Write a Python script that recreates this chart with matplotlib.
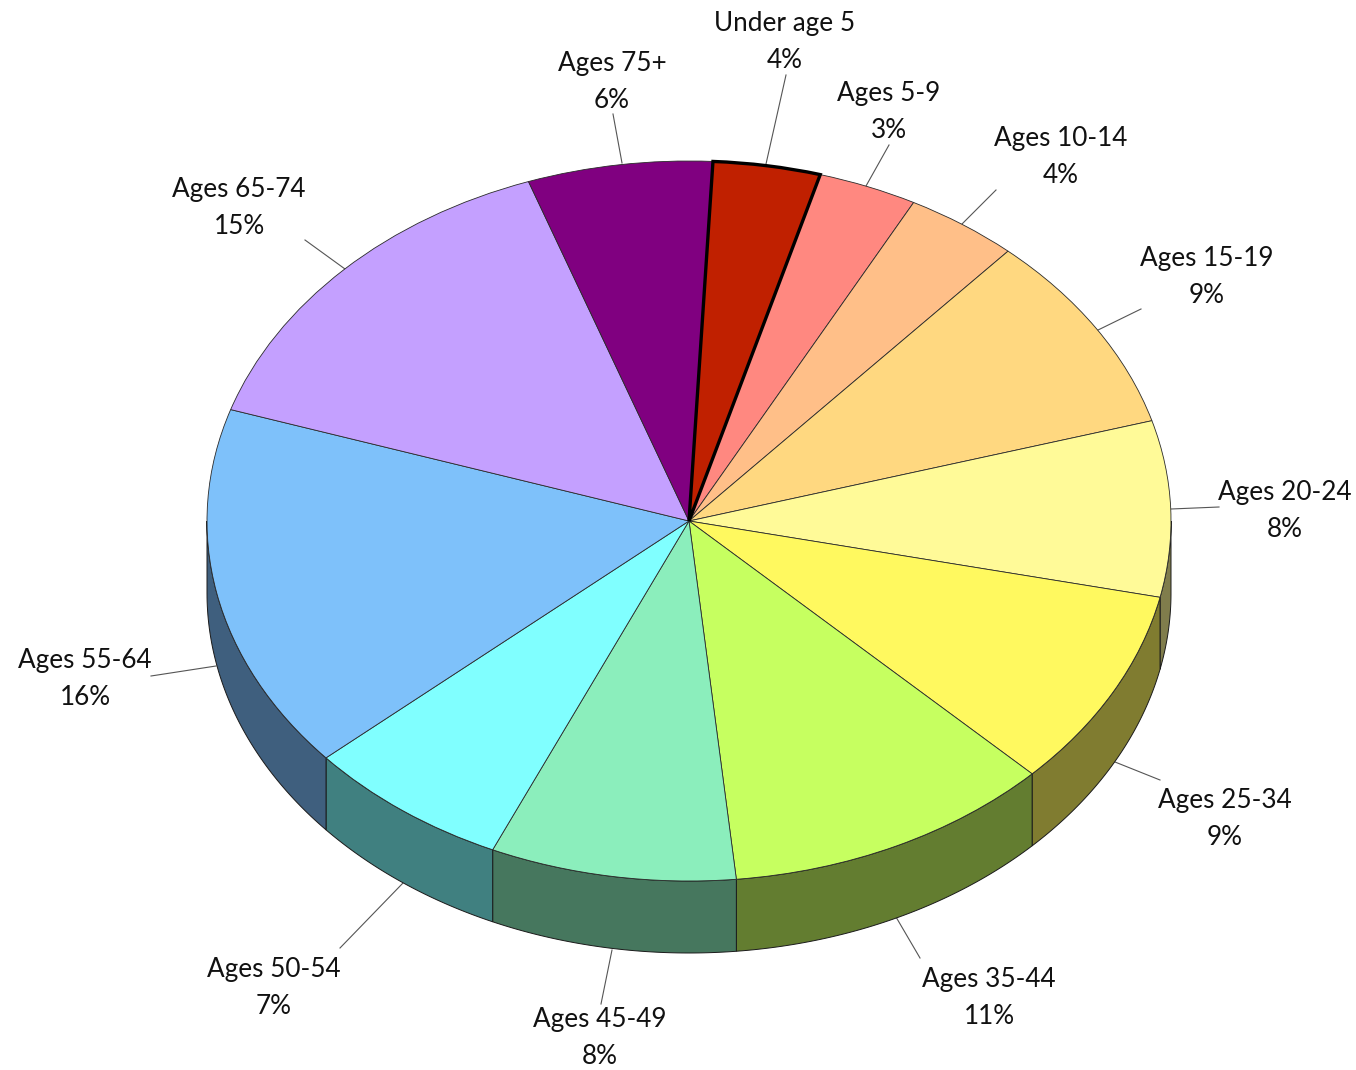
import numpy as np
import matplotlib
matplotlib.use('Agg')
import matplotlib.pyplot as plt

plt.rcParams['font.family'] = ['Lato', 'DejaVu Sans']

ages = ['Under age 5', 'Ages 5-9', 'Ages 10-14', 'Ages 15-19', 'Ages 20-24', 'Ages 25-34',
        'Ages 35-44', 'Ages 45-49', 'Ages 50-54', 'Ages 55-64', 'Ages 65-74', 'Ages 75+']
# slice sizes as measured, the printed percent is rounded
shares = [3.6, 3.33, 3.8, 9.0, 7.9, 9.0, 11.05, 8.25, 6.9, 16.45, 14.6, 6.2]
percent_labels = ['4%', '3%', '4%', '9%', '8%', '9%', '11%', '8%', '7%', '16%', '15%', '6%']
top_colors = ['#C02000', '#FF8880', '#FFBF88', '#FFD880', '#FFFA98', '#FFF95F',
              '#C6FF60', '#8BEEBC', '#80FFFF', '#7EC1FA', '#C4A0FF', '#800080']
side_colors = ['#602000', '#804440', '#806044', '#806C40', '#807D4C', '#807C30',
               '#637D30', '#46775E', '#408080', '#3F5F7E', '#625080', '#400040']

# label layout in pixels: text centre, leader start, leader end
label_xy = [(785, 42), (889, 112), (1061, 157), (1207, 277), (1285, 511), (1225, 819),
            (989, 998), (600, 1038), (274, 988), (85, 679), (239, 208), (612, 82)]
leaders = [((786, 75), (766, 164)), ((889, 145), (866, 186)), ((996, 190), (962, 224)),
           ((1141, 309), (1096, 331)), ((1219, 507), (1171, 509)), ((1160, 780), (1115, 762)),
           ((920, 958), (896, 917)), ((601, 1004), (612, 950)), ((340, 948), (403, 883)),
           ((151, 676), (216, 666)), ((305, 240), (345, 269)), ((613, 114), (622, 163))]

W, H = 1356, 1070
cx, cy = 689, 521
rx, ry = 482, 360
depth = 72 / ry


def px(x, y):
    return (x - cx) / rx, (cy - y) / ry


fig = plt.figure(figsize=(W / 100, H / 100), dpi=100)
ax = fig.add_axes([0, 0, 1, 1])

wedges, _ = ax.pie(shares, colors=top_colors, startangle=87.15, counterclock=False,
                   wedgeprops={'edgecolor': '#2a2a2a', 'linewidth': 0.6})
ax.set_aspect('auto')
ax.set_xlim(-cx / rx, (W - cx) / rx)
ax.set_ylim(-(H - cy) / ry, cy / ry)
ax.axis('off')

# side wall, only the part of each slice on the front half
for w, c in zip(wedges, side_colors):
    t1, t2 = w.theta1 % 360, w.theta2 % 360
    if t2 < t1:
        t2 += 360
    for lo, hi in [(180, 360), (540, 720)]:
        a, b = max(t1, lo), min(t2, hi)
        if b <= a:
            continue
        t = np.radians(np.linspace(a, b, 60))
        xs = np.r_[np.cos(t), np.cos(t[::-1])]
        ys = np.r_[np.sin(t), np.sin(t[::-1]) - depth]
        ax.fill(xs, ys, facecolor=c, edgecolor='#1a1a1a', linewidth=0.7, zorder=0.5)

wedges[0].set_linewidth(2.4)
wedges[0].set_edgecolor('black')
wedges[0].set_zorder(3)

for age, pct, (lx, ly), (p0, p1) in zip(ages, percent_labels, label_xy, leaders):
    x0, y0 = px(*p0)
    x1, y1 = px(*p1)
    ax.plot([x0, x1], [y0, y1], color='#555555', lw=0.8, zorder=0.4)
    tx, ty = px(lx, ly)
    ax.text(tx, ty, age + '\n' + pct, ha='center', va='center', fontsize=18.8,
            color='#111111', linespacing=1.6)

fig.savefig('out.png', dpi=100)
